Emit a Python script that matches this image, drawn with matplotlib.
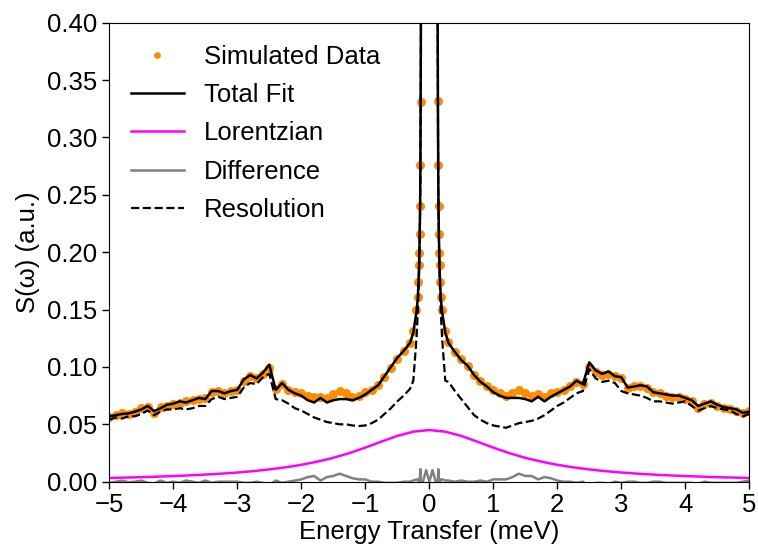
import numpy as np
import matplotlib
matplotlib.use("Agg")
import matplotlib.pyplot as plt

plt.rcParams['font.family'] = ['Liberation Sans', 'DejaVu Sans']

# ---- x grids (meV) ----
x_left = np.round(np.arange(-5.0, -0.25, 0.1), 2)      # -5.0 .. -0.3
x_core = [-0.25, -0.2, -0.18, -0.17, -0.16, -0.155, -0.15, -0.145, -0.14, -0.135,
          -0.13, -0.12, -0.1, -0.05, 0.0, 0.05, 0.1, 0.12, 0.13, 0.135, 0.14,
          0.145, 0.15, 0.155, 0.16, 0.17, 0.18, 0.2, 0.25]
x_right = np.round(np.arange(0.3, 5.05, 0.1), 2)       # 0.3 .. 5.0

# ---- Simulated data ----
data_left = [0.056, 0.058, 0.060, 0.059, 0.061, 0.064, 0.065, 0.060, 0.065, 0.066,
             0.068, 0.069, 0.070, 0.071, 0.072, 0.073, 0.078, 0.079, 0.077, 0.079,
             0.080, 0.088, 0.092, 0.090, 0.094, 0.099, 0.081, 0.085, 0.080, 0.078,
             0.077, 0.075, 0.074, 0.074, 0.073, 0.076, 0.079, 0.077, 0.074, 0.075,
             0.078, 0.080, 0.084, 0.091, 0.099, 0.107, 0.114, 0.121]
data_core = [0.131, 0.150, 0.161, 0.174, 0.189, 0.199, 0.216, 0.240, 0.276, 0.331,
             0.420, 0.600, 1.000, 2.010, 3.000, 2.010, 1.000, 0.600, 0.420, 0.332,
             0.276, 0.240, 0.216, 0.199, 0.189, 0.174, 0.161, 0.150, 0.131]
data_right = [0.122, 0.113, 0.107, 0.101, 0.093, 0.088, 0.083, 0.080, 0.077, 0.075,
              0.077, 0.080, 0.077, 0.075, 0.076, 0.074, 0.077, 0.078, 0.080, 0.083,
              0.087, 0.085, 0.100, 0.096, 0.093, 0.094, 0.092, 0.090, 0.082, 0.083,
              0.083, 0.082, 0.078, 0.077, 0.075, 0.074, 0.074, 0.072, 0.070, 0.064,
              0.068, 0.069, 0.066, 0.064, 0.063, 0.062, 0.060, 0.062]

# ---- Total fit ----
fit_left = [0.057, 0.058, 0.059, 0.0595, 0.061, 0.063, 0.066, 0.0615, 0.064, 0.067,
            0.068, 0.070, 0.069, 0.071, 0.073, 0.072, 0.079, 0.079, 0.077, 0.079,
            0.080, 0.089, 0.093, 0.090, 0.095, 0.102, 0.080, 0.086, 0.080, 0.077,
            0.075, 0.071, 0.069, 0.073, 0.069, 0.071, 0.072, 0.072, 0.071, 0.073,
            0.076, 0.080, 0.084, 0.092, 0.100, 0.108, 0.114, 0.121]
fit_core = [0.130, 0.148, 0.160, 0.172, 0.187, 0.200, 0.215, 0.235, 0.265, 0.330,
            0.420, 0.600, 1.000, 2.000, 3.000, 2.000, 1.000, 0.600, 0.420, 0.330,
            0.265, 0.235, 0.215, 0.200, 0.187, 0.172, 0.160, 0.148, 0.130]
fit_right = [0.121, 0.113, 0.106, 0.101, 0.093, 0.087, 0.083, 0.078, 0.075, 0.073,
             0.073, 0.073, 0.072, 0.070, 0.074, 0.070, 0.074, 0.077, 0.080, 0.083,
             0.088, 0.085, 0.104, 0.097, 0.094, 0.096, 0.092, 0.091, 0.082, 0.083,
             0.084, 0.083, 0.078, 0.077, 0.076, 0.075, 0.075, 0.073, 0.071, 0.066,
             0.068, 0.070, 0.067, 0.065, 0.064, 0.063, 0.060, 0.061]

# ---- Resolution ----
res_left = [0.054, 0.056, 0.055, 0.057, 0.057, 0.059, 0.062, 0.058, 0.061, 0.063,
            0.063, 0.064, 0.063, 0.064, 0.066, 0.066, 0.072, 0.074, 0.072, 0.073,
            0.074, 0.082, 0.086, 0.085, 0.091, 0.094, 0.072, 0.071, 0.068, 0.064,
            0.062, 0.059, 0.056, 0.054, 0.052, 0.051, 0.050, 0.050, 0.049, 0.0485,
            0.049, 0.051, 0.054, 0.059, 0.064, 0.070, 0.075, 0.081]
res_core = [0.088, 0.125, 0.148, 0.163, 0.182, 0.196, 0.211, 0.230, 0.260, 0.320,
            0.410, 0.590, 0.990, 1.990, 2.990, 1.990, 0.990, 0.590, 0.410, 0.320,
            0.260, 0.230, 0.211, 0.196, 0.182, 0.163, 0.148, 0.125, 0.088]
res_right = [0.087, 0.079, 0.072, 0.065, 0.058, 0.054, 0.051, 0.049, 0.048, 0.047,
             0.049, 0.051, 0.052, 0.053, 0.055, 0.058, 0.062, 0.066, 0.069, 0.073,
             0.077, 0.079, 0.098, 0.090, 0.087, 0.088, 0.086, 0.079, 0.077, 0.076,
             0.075, 0.073, 0.070, 0.070, 0.069, 0.068, 0.069, 0.070, 0.066, 0.062,
             0.064, 0.066, 0.064, 0.063, 0.062, 0.059, 0.057, 0.059]

# ---- Lorentzian ----
lor_x = np.round(np.arange(-5.0, 5.01, 0.25), 2)
lor_half = [0.0032, 0.0036, 0.0039, 0.0044, 0.0049, 0.0055, 0.0062, 0.0070, 0.0080,
            0.0092, 0.0107, 0.0125, 0.0147, 0.0175, 0.0208, 0.0249, 0.0297, 0.0349,
            0.0399, 0.0436]
lor_peak = [0.0450]
lor_y = lor_half + lor_peak + lor_half[::-1]

x = np.concatenate([x_left, x_core, x_right])
data = np.array(data_left + data_core + data_right)
fit = np.array(fit_left + fit_core + fit_right)
res = np.array(res_left + res_core + res_right)
diff = data - fit

fig = plt.figure(figsize=(7.58, 5.48), dpi=100)
ax = fig.add_axes([0.1442, 0.121, 0.9885 - 0.1442, 0.9586 - 0.121])

fs = 18.5
ax.plot(x, data, 'o', color='darkorange', markersize=6.5, markeredgewidth=0,
        label='Simulated Data', zorder=1)
ax.plot(x, fit, '-', color='black', lw=1.8, label='Total Fit', zorder=3)
ax.plot(lor_x, lor_y, '-', color='magenta', lw=1.8, label='Lorentzian', zorder=2)
ax.plot(x, diff, '-', color='gray', lw=1.8, label='Difference', zorder=2)
ax.plot(x, res, '--', color='black', lw=1.6, label='Resolution', zorder=2)

ax.set_xlim(-5, 5)
ax.set_ylim(0, 0.40)
ax.set_xticks(np.arange(-5, 6, 1))
ax.set_yticks(np.arange(0, 0.401, 0.05))
ax.set_yticklabels([f"{v:.2f}" for v in np.arange(0, 0.401, 0.05)])
ax.set_xticklabels([f"{v}".replace('-', '\u2212') for v in range(-5, 6)])
ax.tick_params(labelsize=fs, length=5, width=1)
ax.set_xlabel('Energy Transfer (meV)', fontsize=fs, labelpad=2)
ax.set_ylabel('S(\u03c9) (a.u.)', fontsize=fs, labelpad=5)

leg = ax.legend(loc='upper left', frameon=False, fontsize=fs, handlelength=2.05,
                markerscale=0.75, borderaxespad=0.45, labelspacing=0.56,
                bbox_to_anchor=(0.0, 1.0))

fig.savefig('out.png', dpi=100)
